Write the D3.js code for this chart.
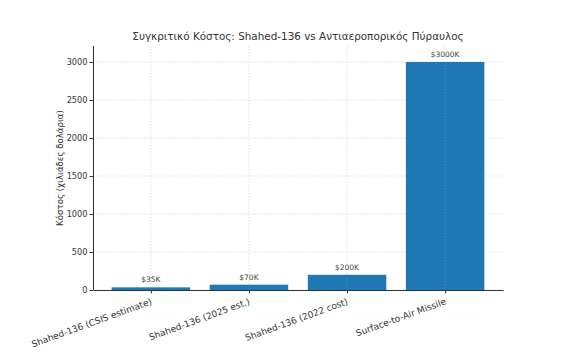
<!DOCTYPE html>
<html>
<head>
<meta charset="utf-8">
<script src="https://cdn.jsdelivr.net/npm/d3@7"></script>
<style>
  body { margin: 0; background: #fff; }
  svg { font-family: "DejaVu Sans", sans-serif; }
  .grid line { stroke: #dcdcdc; stroke-dasharray: 1.5,1.5; stroke-width: 0.8; }
  .axis text { fill: #333; }
  .axis path, .axis line { stroke: #333; }
</style>
</head>
<body>
<div id="chart"></div>
<script>
// data
const categories = ["Shahed-136 (CSIS estimate)", "Shahed-136 (2025 est.)", "Shahed-136 (2022 cost)", "Surface-to-Air Missile"];
const costs = [35, 70, 200, 3000];
const barLabels = ["$35K", "$70K", "$200K", "$3000K"];
const yTicks = [0, 500, 1000, 1500, 2000, 2500, 3000];
const title = "Συγκριτικό Κόστος: Shahed-136 vs Αντιαεροπορικός Πύραυλος";
const yTitle = "Κόστος (χιλιάδες δολάρια)";

const width = 577, height = 354,
    margin = ({ top: 46, right: 74, bottom: 64, left: 93 });

const svg = d3.select("#chart")
    .append("svg")
    .attr("width", width)
    .attr("height", height);

// linear x mimicking matplotlib bar width 0.8 with 5% margins
let x = d3.scaleLinear()
    .domain([-0.59, categories.length - 1 + 0.59])
    .range([margin.left, width - margin.right]);

let y = d3.scaleLinear()
    .domain([0, 3210])
    .range([height - margin.bottom, margin.top]);

// grid
svg.append("g").attr("class", "grid")
  .selectAll("line").data(yTicks).join("line")
    .attr("x1", margin.left).attr("x2", width - margin.right)
    .attr("y1", d => y(d)).attr("y2", d => y(d));
svg.append("g").attr("class", "grid")
  .selectAll("line").data(categories).join("line")
    .attr("x1", (d, i) => x(i)).attr("x2", (d, i) => x(i))
    .attr("y1", margin.top).attr("y2", height - margin.bottom);

// bars
svg.append("g")
  .selectAll("rect").data(costs).join("rect")
    .attr("x", (d, i) => x(i - 0.4))
    .attr("width", x(0.4) - x(-0.4))
    .attr("y", d => y(d))
    .attr("height", d => y(0) - y(d))
    .attr("fill", "#1f77b4");

// vertical grid shows faintly over the bars
svg.append("g").attr("class", "grid")
  .selectAll("line").data(costs).join("line")
    .attr("x1", (d, i) => x(i)).attr("x2", (d, i) => x(i))
    .attr("y1", d => y(d)).attr("y2", height - margin.bottom)
    .style("stroke", "#5a8fc0");

// bar labels
svg.append("g")
  .selectAll("text").data(barLabels).join("text")
    .attr("x", (d, i) => x(i))
    .attr("y", (d, i) => y(costs[i]) - 5)
    .attr("text-anchor", "middle")
    .attr("font-size", 7.5)
    .attr("fill", "#444")
    .text(d => d);

// y axis
svg.append("g")
  .attr("class", "axis")
  .attr("transform", `translate(${margin.left},0)`)
  .call(d3.axisLeft(y).tickValues(yTicks).tickFormat(d3.format("d")).tickSize(3.5).tickSizeOuter(0).tickPadding(2))
  .attr("font-family", "DejaVu Sans")
  .attr("font-size", 8.2)
  .call(g => g.select(".domain").attr("d", `M0.5,${margin.top}V${y(0)}`));

// x axis
svg.append("g")
  .attr("class", "axis")
  .attr("transform", `translate(0,${height - margin.bottom})`)
  .call(d3.axisBottom(x).tickValues(d3.range(categories.length)).tickFormat(i => categories[i]).tickSize(3.5).tickSizeOuter(0))
  .attr("font-family", "DejaVu Sans")
  .attr("font-size", 9)
  .call(g => g.selectAll(".tick text")
      .attr("text-anchor", "end")
      .attr("dy", "0.35em")
      .attr("y", 0)
      .attr("transform", "translate(0,11) rotate(-20)"));

// title
svg.append("text")
  .attr("x", (margin.left + width - margin.right) / 2)
  .attr("y", 40)
  .attr("text-anchor", "middle")
  .attr("font-size", 10.4)
  .attr("fill", "#333")
  .text(title);

// y label
svg.append("text")
  .attr("transform", "rotate(-90)")
  .attr("x", -(margin.top + height - margin.bottom) / 2)
  .attr("y", 63)
  .attr("text-anchor", "middle")
  .attr("font-size", 8.6)
  .attr("fill", "#333")
  .text(yTitle);
</script>
</body>
</html>
